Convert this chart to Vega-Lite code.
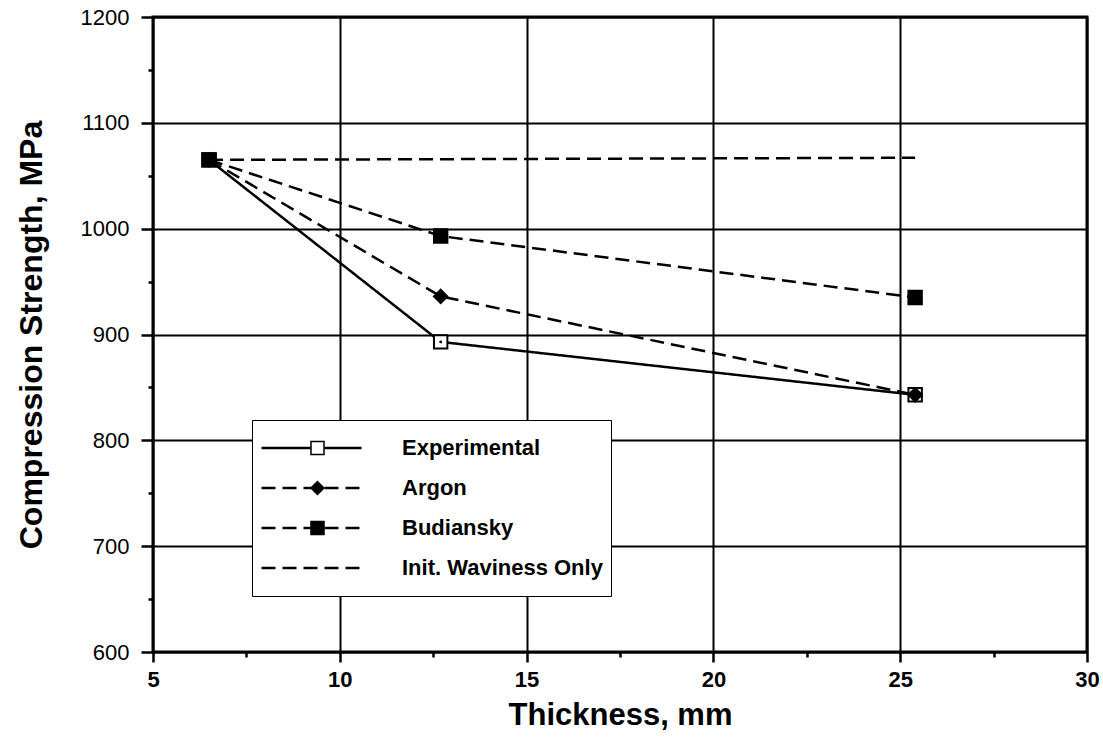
{
  "$schema": "https://vega.github.io/schema/vega-lite/v6.json",
  "width": 934,
  "height": 635,
  "autosize": {"type": "none"},
  "padding": {"left": 153, "top": 17, "right": 16, "bottom": 93},
  "background": "white",
  "config": {
    "view": {"stroke": "black", "strokeWidth": 3},
    "font": "Liberation Sans",
    "axis": {
      "labelFont": "Liberation Sans",
      "labelColor": "black",
      "titleFont": "Liberation Sans",
      "titleFontSize": 31,
      "titleFontWeight": "bold",
      "titleColor": "black",
      "domain": false,
      "tickColor": "black",
      "tickWidth": 2.5,
      "gridColor": "black",
      "gridWidth": 2
    }
  },
  "data": {
    "values": [
      {"series": "Experimental", "thickness": 6.5, "strength": 1065},
      {"series": "Experimental", "thickness": 12.7, "strength": 893},
      {"series": "Experimental", "thickness": 25.4, "strength": 843},
      {"series": "Argon", "thickness": 6.5, "strength": 1065},
      {"series": "Argon", "thickness": 12.7, "strength": 936},
      {"series": "Argon", "thickness": 25.4, "strength": 843},
      {"series": "Budiansky", "thickness": 6.5, "strength": 1065},
      {"series": "Budiansky", "thickness": 12.7, "strength": 993},
      {"series": "Budiansky", "thickness": 25.4, "strength": 935},
      {"series": "Init. Waviness Only", "thickness": 6.5, "strength": 1065},
      {"series": "Init. Waviness Only", "thickness": 25.4, "strength": 1067}
    ]
  },
  "resolve": {"axis": {"x": "independent", "y": "independent"}},
  "layer": [
    {
      "mark": {"type": "point", "opacity": 0},
      "encoding": {
        "x": {
          "field": "thickness", "type": "quantitative",
          "scale": {"domain": [5, 30], "nice": false, "zero": false},
          "axis": {
            "orient": "bottom",
            "title": null,
            "values": [7.5, 12.5, 17.5, 22.5, 27.5],
            "labels": false,
            "grid": false,
            "tickSize": 5
          }
        },
        "y": {
          "field": "strength", "type": "quantitative",
          "scale": {"domain": [600, 1200], "nice": false, "zero": false},
          "axis": {
            "orient": "left",
            "title": null,
            "values": [650, 750, 850, 950, 1050, 1150],
            "labels": false,
            "grid": false,
            "tickSize": 5
          }
        }
      }
    },
    {
      "mark": {"type": "line", "color": "black", "strokeWidth": 2.5},
      "encoding": {
        "x": {
          "field": "thickness", "type": "quantitative",
          "axis": {
            "orient": "bottom",
            "title": "Thickness, mm",
            "format": "d",
            "values": [5, 10, 15, 20, 25, 30],
            "grid": true,
            "tickSize": 10,
            "labelFontSize": 22,
            "labelFontWeight": "bold",
            "labelPadding": 7,
            "labelFlush": false,
            "titlePadding": 10
          }
        },
        "y": {
          "field": "strength", "type": "quantitative",
          "axis": {
            "orient": "left",
            "title": "Compression Strength, MPa",
            "format": "d",
            "values": [600, 700, 800, 900, 1000, 1100, 1200],
            "grid": true,
            "tickSize": 12,
            "labelFontSize": 22,
            "labelPadding": 12,
            "labelFlush": false,
            "titleFontSize": 32,
            "titlePadding": 32
          }
        },
        "strokeDash": {
          "field": "series", "type": "nominal",
          "scale": {
            "domain": ["Experimental", "Argon", "Budiansky", "Init. Waviness Only"],
            "range": [[1, 0], [14, 7], [14, 7], [14, 7]]
          },
          "legend": {
            "title": null,
            "orient": "none",
            "legendX": 99,
            "legendY": 403,
            "fillColor": "white",
            "strokeColor": "black",
            "padding": 8,
            "symbolType": "stroke",
            "symbolSize": 10000,
            "symbolStrokeWidth": 2.5,
            "symbolStrokeColor": "black",
            "clipHeight": 40,
            "rowPadding": 0,
            "labelFont": "Liberation Sans",
            "labelFontSize": 22,
            "labelFontWeight": "bold",
            "labelColor": "black",
            "labelOffset": 39,
            "labelLimit": 400,
            "zindex": 1
          }
        }
      }
    },
    {
      "transform": [{"filter": "datum.series !== 'Init. Waviness Only'"}],
      "mark": {"type": "point", "filled": true, "stroke": "black", "strokeWidth": 2, "size": 180, "opacity": 1},
      "encoding": {
        "x": {"field": "thickness", "type": "quantitative", "axis": null},
        "y": {"field": "strength", "type": "quantitative", "axis": null},
        "shape": {
          "field": "series", "type": "nominal",
          "scale": {
            "domain": ["Experimental", "Argon", "Budiansky"],
            "range": ["square", "diamond", "square"]
          },
          "legend": {
            "title": null,
            "orient": "none",
            "legendX": 99,
            "legendY": 403,
            "padding": 8,
            "symbolSize": 170,
            "clipHeight": 40,
            "rowPadding": 0,
            "symbolOffset": 50,
            "labelExpr": "''",
            "labelOffset": 0,
            "zindex": 2,
            "encode": {
              "symbols": {
                "update": {
                  "stroke": {"value": "black"},
                  "strokeWidth": {"value": 2},
                  "opacity": {"value": 1}
                }
              }
            }
          }
        },
        "fill": {
          "field": "series", "type": "nominal",
          "scale": {
            "domain": ["Experimental", "Argon", "Budiansky"],
            "range": ["white", "black", "black"]
          },
          "legend": {
            "title": null,
            "orient": "none",
            "legendX": 99,
            "legendY": 403,
            "padding": 8,
            "symbolSize": 170,
            "clipHeight": 40,
            "rowPadding": 0,
            "symbolOffset": 50,
            "labelExpr": "''",
            "labelOffset": 0,
            "zindex": 2,
            "encode": {
              "symbols": {
                "update": {
                  "stroke": {"value": "black"},
                  "strokeWidth": {"value": 2},
                  "opacity": {"value": 1}
                }
              }
            }
          }
        }
      }
    },
    {
      "transform": [{"filter": "datum.series === 'Experimental'"}],
      "mark": {"type": "point", "filled": true, "color": "black", "size": 8, "opacity": 1},
      "encoding": {
        "x": {"field": "thickness", "type": "quantitative", "axis": null},
        "y": {"field": "strength", "type": "quantitative", "axis": null}
      }
    }
  ]
}
